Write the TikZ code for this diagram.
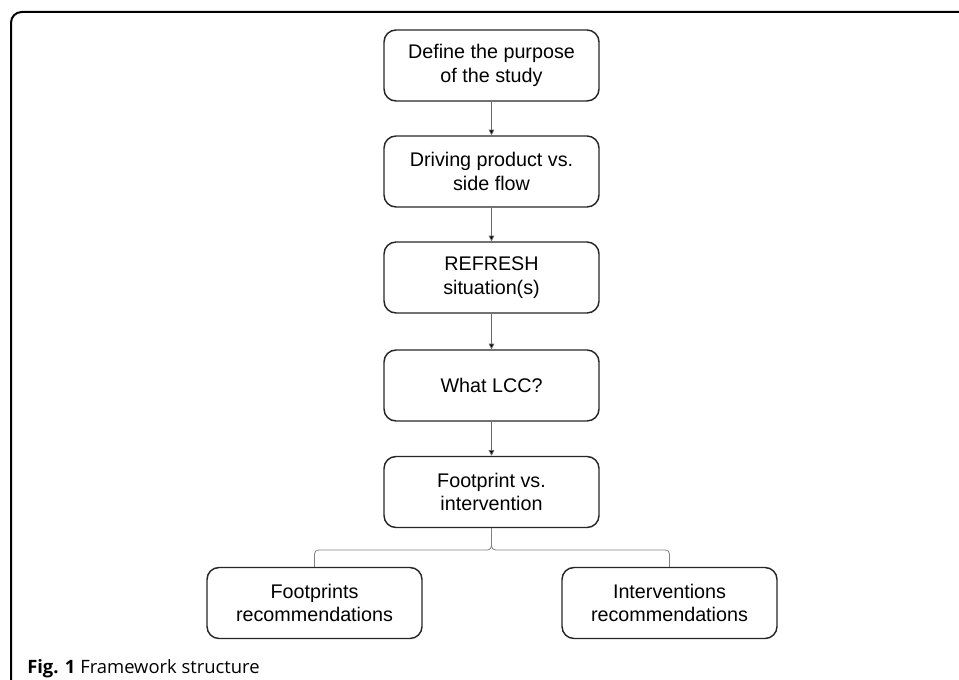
\documentclass[tikz,border=0pt]{standalone}
\usepackage{fontspec}
\setmainfont{Liberation Sans}
\newfontfamily\capfont{Open Sans}
\usetikzlibrary{arrows.meta, positioning}

\begin{document}
\begin{tikzpicture}[x=0.75pt, y=-0.75pt,
  box/.style={draw=black!85, line width=1.1pt, rounded corners=9pt, minimum width=161.25pt, minimum height=53.25pt, align=center, inner sep=0pt, font=\fontsize{14.8}{17.5}\selectfont},
  link/.style={draw=black!60, line width=0.6pt, -{Triangle[length=4.2pt, width=4.2pt, fill=black]}},
  bracket/.style={draw=black!50, line width=0.6pt, rounded corners=3pt}]
\clip (0,0) rectangle (959,680);
% outer frame
\draw [line width=1.5pt, rounded corners=8pt] (990,12) -| (11,710);
% main column
\node [box] (purpose) at (491.5,65.5) {Define the purpose\\of the study};
\node [box] (driving) at (491.5,171.5) {Driving product vs.\\side flow};
\node [box] (refresh) at (491.5,277.5) {REFRESH\\situation(s)};
\node [box] (lcc) at (491.5,385.5) {What LCC?};
\node [box] (choice) at (491.5,492) {Footprint vs.\\intervention};
% outcomes
\node [box] (footrec) at (314.5,603) {Footprints\\recommendations};
\node [box] (intrec) at (669.5,603) {Interventions\\recommendations};
\draw [link] (purpose) -- (driving);
\draw [link] (driving) -- (refresh);
\draw [link] (refresh) -- (lcc);
\draw [link] (lcc) -- (choice);
\draw [bracket] (footrec.north) |- (491.5,550) -- (choice.south);
\draw [bracket] (intrec.north) |- (491.5,550) -- (choice.south);
% caption
\node [anchor=base west, inner sep=0pt, font=\capfont\fontsize{13.8}{15}\selectfont] (caption) at (27,673) {\textbf{Fig. 1} Framework structure};
\end{tikzpicture}
\end{document}
